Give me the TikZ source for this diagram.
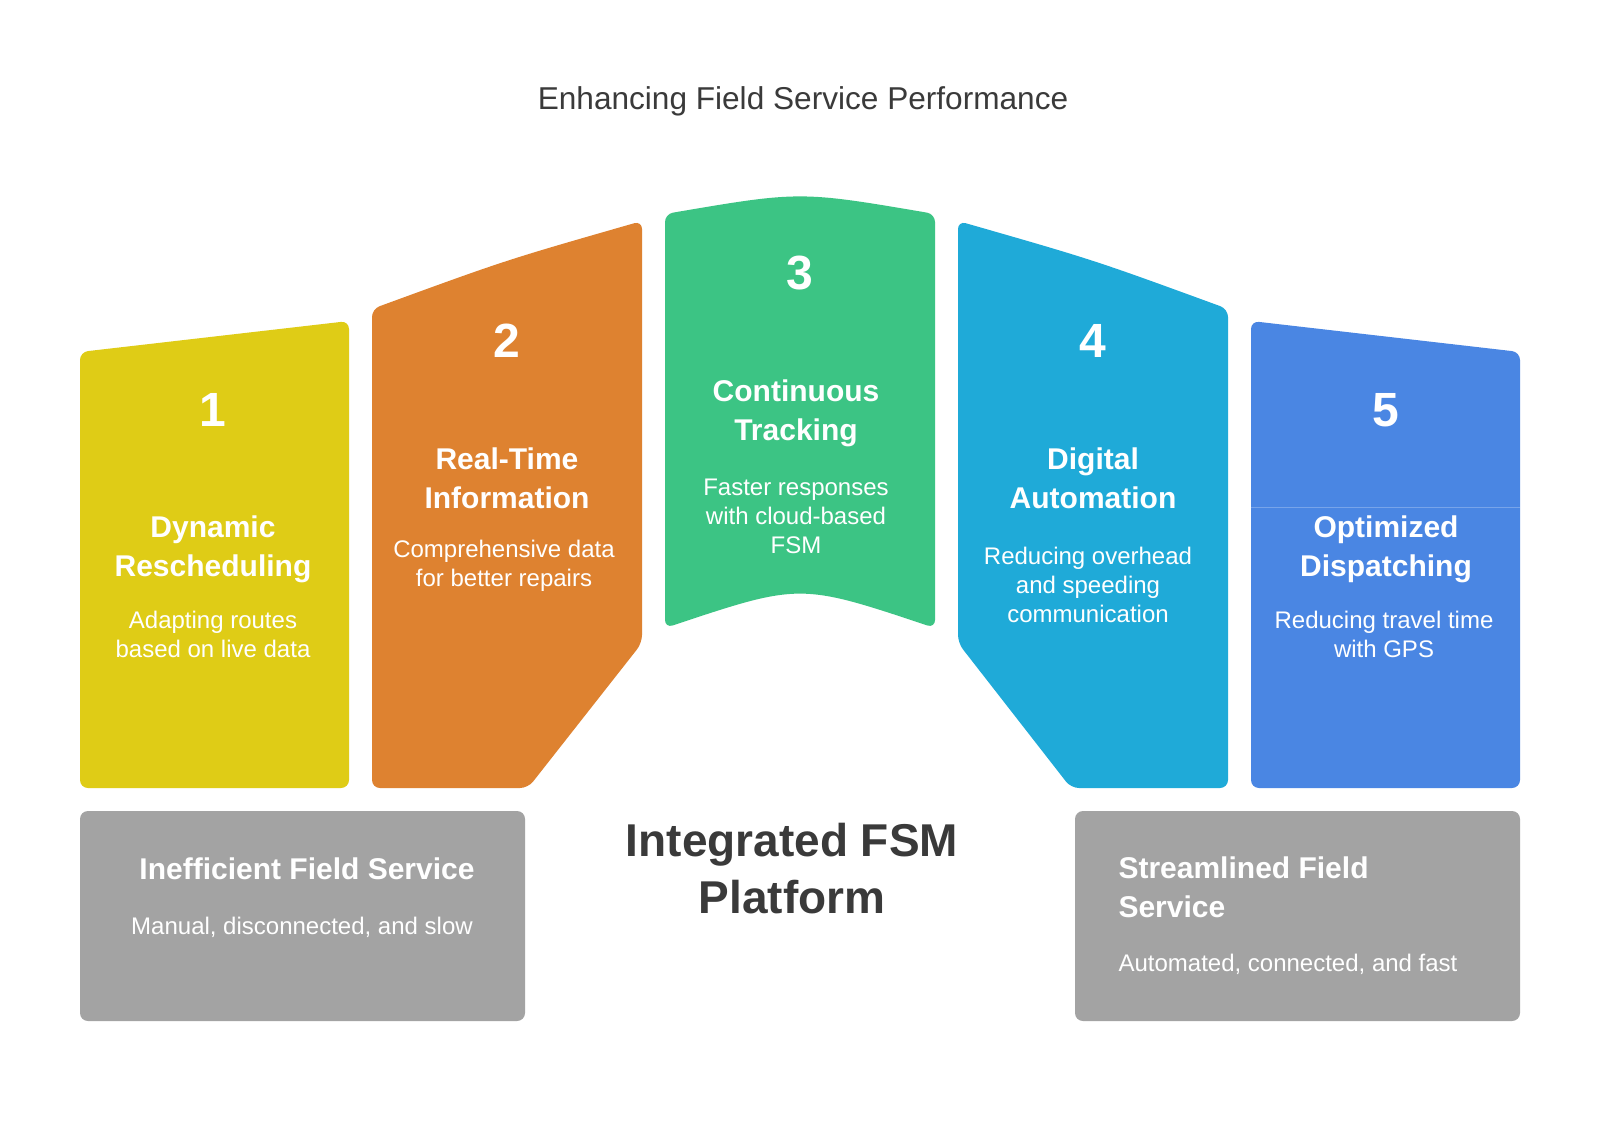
\documentclass[tikz,border=0pt]{standalone}
\usepackage{fontspec}
\setmainfont{Liberation Sans}
\usepackage{xcolor}
\definecolor{ryellow}{HTML}{DFCC16}
\definecolor{rorange}{HTML}{DE8230}
\definecolor{rgreen}{HTML}{3CC484}
\definecolor{rcyan}{HTML}{1FAAD8}
\definecolor{rblue}{HTML}{4A86E3}
\definecolor{rgray}{HTML}{A3A3A3}
\definecolor{titlegray}{HTML}{3A3A3A}
\usepackage{tikz}

\begin{document}
\begin{tikzpicture}[x=1pt, y=-1pt,
  panel/.style={rounded corners=8pt},
  num/.style={text=white, font=\fontsize{48}{48}\selectfont\bfseries},
  head/.style={text=white, align=center, font=\fontsize{30}{39}\selectfont\bfseries},
  desc/.style={text=white, align=center, font=\fontsize{24}{29}\selectfont}]
  \useasboundingbox (0,0) rectangle (1600,1142);
  \fill[white] (0,0) rectangle (1600,1142);

  % Title
  \node[text=titlegray, font=\fontsize{31.6}{32}\selectfont] (title) at (803,101) {Enhancing Field Service Performance};

  % Panels
  \fill[ryellow, panel] (80,352) -- (349,321) -- (349,788) -- (80,788) -- cycle;
  \fill[rorange, panel] (372,309) .. controls (506,260) .. (642,221) -- (642,643) -- (528,788) -- (372,788) -- cycle;
  \fill[rgreen, panel] (665,214) .. controls (800,191) .. (935,214) -- (935,628) .. controls (800,583) .. (665,628) -- cycle;
  \fill[rcyan, panel] (958,221) .. controls (1094,260) .. (1228,309) -- (1228,788) -- (1071,788) -- (958,643) -- cycle;
  \fill[rblue, panel] (1251,321) -- (1520,352) -- (1520,788) -- (1251,788) -- cycle;
  \draw[rblue!75!white, line width=1pt] (1251,507) -- (1520,507);

  % 1. Dynamic Rescheduling
  \node[num] (n1) at (213,410) {1};
  \node[head] (h1) at (213,549) {Dynamic\\Rescheduling};
  \node[desc] (d1) at (213,634) {Adapting routes\\based on live data};

  % 2. Real-Time Information
  \node[num] (n2) at (507,341) {2};
  \node[head] (h2) at (507,478) {Real-Time\\Information};
  \node[desc] (d2) at (504,566) {Comprehensive data\\for better repairs};

  % 3. Continuous Tracking
  \node[num] (n3) at (800,273) {3};
  \node[head] (h3) at (796,413) {Continuous\\Tracking};
  \node[desc] (d3) at (796,516) {Faster responses\\with cloud-based\\FSM};

  % 4. Digital Automation
  \node[num] (n4) at (1093,341) {4};
  \node[head] (h4) at (1093,478) {Digital\\Automation};
  \node[desc] (d4) at (1088,585) {Reducing overhead\\and speeding\\communication};

  % 5. Optimized Dispatching
  \node[num] (n5) at (1386,410) {5};
  \node[head] (h5) at (1386,549) {Optimized\\Dispatching};
  \node[desc] (d5) at (1384,634) {Reducing travel time\\with GPS};

  % Start and end states
  \fill[rgray, panel] (80,811) rectangle (525,1021);
  \fill[rgray, panel] (1075,811) rectangle (1520,1021);
  \node[head] (fromh) at (307,869) {Inefficient Field Service};
  \node[desc] (fromd) at (302,927) {Manual, disconnected, and slow};
  \node[head, align=left, anchor=west] (toh) at (1115,887) {Streamlined Field\\Service};
  \node[desc, anchor=west] (tod) at (1115,964) {Automated, connected, and fast};

  % Platform
  \node[text=titlegray, align=center, font=\fontsize{46}{57}\selectfont\bfseries] (platform) at (792,869) {Integrated FSM\\Platform};
\end{tikzpicture}
\end{document}
